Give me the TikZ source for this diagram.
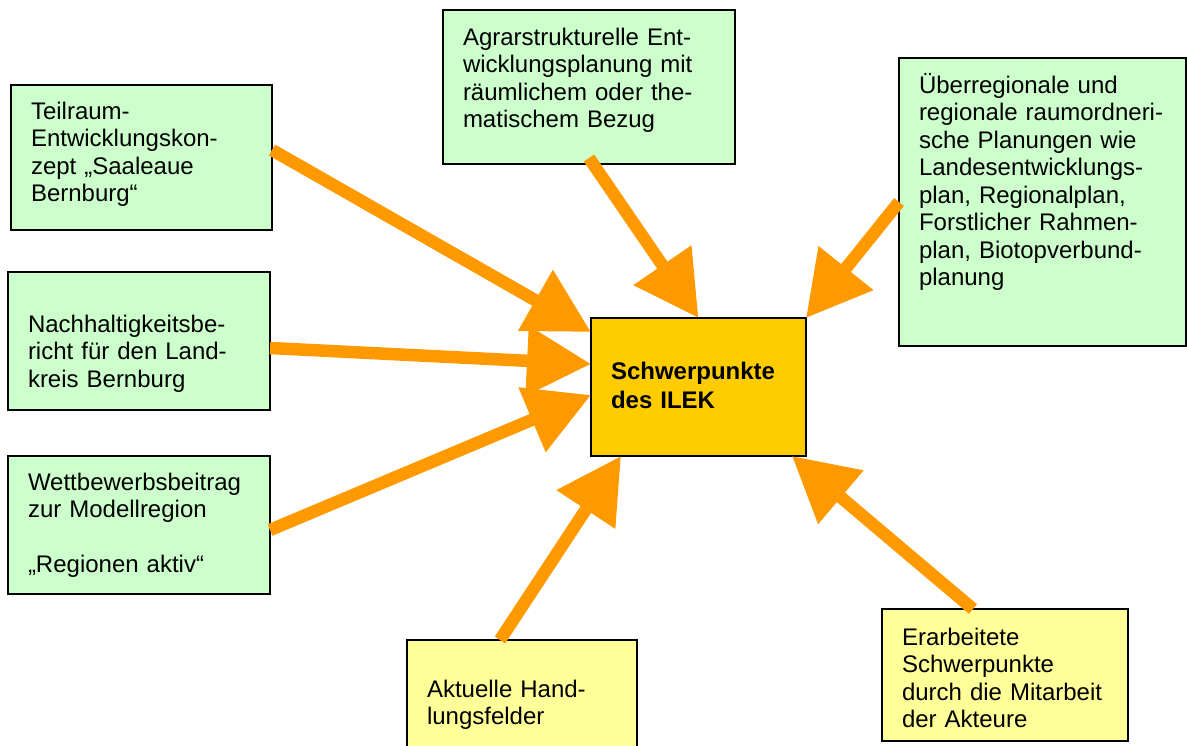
\documentclass[tikz,border=0pt]{standalone}
\usepackage{fontspec}
\setmainfont{Liberation Sans}
\usetikzlibrary{arrows.meta}

\definecolor{hellgruen}{HTML}{CCFFCC}
\definecolor{hellgelb}{HTML}{FFFF99}
\definecolor{goldgelb}{HTML}{FFCC00}
\definecolor{pfeilorange}{HTML}{FF9900}

\tikzset{%
  % Specifications for style of nodes:
       kasten/.style = {rectangle, draw = black, line width=1.5pt, anchor=north west, outer sep=0pt, inner xsep=20pt, inner ysep=0pt, align=left, font=\fontsize{24}{27.5}\selectfont},
       gruen/.style = {kasten, fill=hellgruen},
       gelb/.style  = {kasten, fill=hellgelb},
       pfeil/.style = {draw=pfeilorange, line width=12.5pt, -{Triangle[length=64pt, width=67pt]}},
}

\begin{document}
\begin{tikzpicture}[x=1pt, y=1pt]
    \useasboundingbox (0,0) rectangle (1187,-745);

    % Draw nodes
    \node (teil)   [gruen, text width=221pt, text height=34.2pt, text depth=110.8pt] at (11,-85)  {Teilraum-\\Entwicklungskon-\\zept „Saaleaue\\Bernburg“};
    \node (nach)   [gruen, text width=222pt, text height=60.2pt, text depth=77.8pt]  at (8,-272)  {Nachhaltigkeitsbe-\\richt für den Land-\\kreis Bernburg};
    \node (wett)   [gruen, text width=222pt, text height=34.2pt, text depth=103.8pt] at (8,-456)  {Wettbewerbsbeitrag\\zur Modellregion\\[27.5pt]„Regionen aktiv“};
    \node (agrar)  [gruen, text width=252pt, text height=35.2pt, text depth=118.8pt] at (443,-10) {Agrarstrukturelle Ent-\\wicklungsplanung mit\\räumlichem oder the-\\matischem Bezug};
    \node (ueber)  [gruen, text width=247pt, text height=35.2pt, text depth=252.8pt] at (899,-58) {Überregionale und\\regionale raumordneri-\\sche Planungen wie\\Landesentwicklungs-\\plan, Regionalplan,\\Forstlicher Rahmen-\\plan, Biotopverbund-\\planung};
    \node (ilek)   [kasten, fill=goldgelb, text width=175pt, text height=61.2pt, text depth=76.8pt, font=\fontsize{24}{29}\selectfont\bfseries] at (591,-318) {Schwerpunkte\\des ILEK};
    \node (aktuell)[gelb, text width=190pt, text height=57.2pt, text depth=57.8pt]  at (407,-640) {Aktuelle Hand-\\lungsfelder};
    \node (erarb)  [gelb, text width=206pt, text height=36.2pt, text depth=95.8pt]  at (882,-609) {Erarbeitete\\Schwerpunkte\\durch die Mitarbeit\\der Akteure};

    % Draw arrows
    \draw[pfeil] ([yshift=7.5pt]teil.east)   -- ([yshift=-14pt]ilek.north west);
    \draw[pfeil] ([yshift=-7pt]nach.east)    -- ([yshift=23pt]ilek.west);
    \draw[pfeil] ([yshift=-5pt]wett.east)    -- ([yshift=-8pt]ilek.west);
    \draw[pfeil] ([yshift=6pt]agrar.south)   -- (ilek.north);
    \draw[pfeil] (ueber.west)                -- (ilek.north east);
    \draw[pfeil] ([xshift=-22pt]aktuell.north) -- ([xshift=30pt]ilek.south west);
    \draw[pfeil] ([xshift=-32pt]erarb.north) -- ([xshift=-14pt]ilek.south east);

\end{tikzpicture}
\end{document}
